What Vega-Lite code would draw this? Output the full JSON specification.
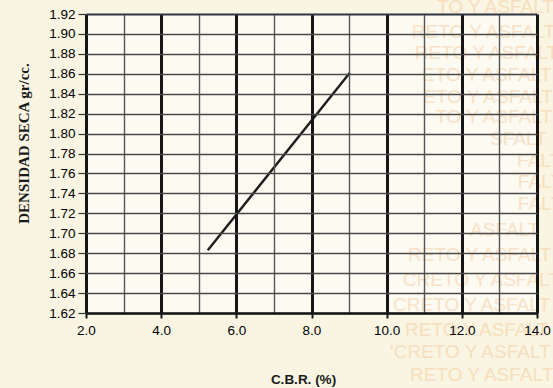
{
  "$schema": "https://vega.github.io/schema/vega-lite/v6.json",
  "width": 451,
  "height": 299,
  "autosize": {"type": "none"},
  "padding": {"left": 86, "top": 14, "right": 16, "bottom": 75},
  "background": "#f9f5e2",
  "config": {"view": {"fill": "#fcfaf1", "stroke": null}, "font": "Liberation Sans"},
  "datasets": {
    "curve": [
      {"cbr": 5.24, "dens": 1.683},
      {"cbr": 9.02, "dens": 1.861}
    ],
    "stamp": [
      {"cbr": 11.34, "dens": 1.927, "txt": "TO Y ASFALT"},
      {"cbr": 10.67, "dens": 1.902, "txt": "RETO Y ASFALT"},
      {"cbr": 10.75, "dens": 1.881, "txt": "RETO Y ASFALT"},
      {"cbr": 10.94, "dens": 1.859, "txt": "ETO Y ASFALT"},
      {"cbr": 10.97, "dens": 1.837, "txt": "ETO Y ASFALT"},
      {"cbr": 11.29, "dens": 1.817, "txt": "TO Y ASFALT"},
      {"cbr": 12.75, "dens": 1.795, "txt": "SFALT"},
      {"cbr": 13.47, "dens": 1.773, "txt": "FALT"},
      {"cbr": 13.49, "dens": 1.751, "txt": "FALT"},
      {"cbr": 13.49, "dens": 1.729, "txt": "FALT"},
      {"cbr": 12.22, "dens": 1.703, "txt": "ASFALT"},
      {"cbr": 10.57, "dens": 1.678, "txt": "RETO Y ASFALT"},
      {"cbr": 10.43, "dens": 1.653, "txt": "CRETO Y ASFALT"},
      {"cbr": 10.17, "dens": 1.628, "txt": "CRETO Y ASFALT"},
      {"cbr": 10.49, "dens": 1.603, "txt": "RETO Y ASFALT"},
      {"cbr": 10.09, "dens": 1.581, "txt": "'CRETO Y ASFALT"},
      {"cbr": 10.62, "dens": 1.558, "txt": "RETO Y ASFALT"},
      {"cbr": 10.67, "dens": 1.536, "txt": "RETO Y ASFALT"}
    ]
  },
  "layer": [
    {
      "data": {"name": "stamp"},
      "mark": {"type": "text", "align": "left", "baseline": "middle", "fontSize": 19, "color": "#f4c08d", "opacity": 0.42, "clip": false},
      "encoding": {
        "x": {"field": "cbr", "type": "quantitative", "scale": {"domain": [2, 14], "nice": false, "zero": false},
          "axis": {
            "values": [2, 3, 4, 5, 6, 7, 8, 9, 10, 11, 12, 13, 14],
            "tickCount": 40,
            "labelExpr": "datum.value % 2 === 0 ? format(datum.value, '.1f') : ''",
            "labelFlush": false,
            "labelOverlap": false,
            "grid": true,
            "gridColor": {"condition": {"test": "datum.value % 2 === 0", "value": "#151515"}, "value": "#555555"},
            "gridWidth": {"condition": {"test": "datum.value % 2 === 0", "value": 3}, "value": 1.4},
            "tickSize": 5,
            "tickWidth": 2,
            "tickColor": "#151515",
            "tickOpacity": {"condition": {"test": "datum.value % 2 === 0", "value": 1}, "value": 0},
            "domainColor": "#151515",
            "domainWidth": 2.5,
            "labelFontSize": 13.5,
            "labelColor": "#000000",
            "labelPadding": 5,
            "title": "C.B.R. (%)",
            "titleFontSize": 13.5,
            "titleFontWeight": "bold",
            "titleColor": "#1a1a1a",
            "titleX": 217,
            "titleY": 70,
            "titleAlign": "center",
            "titleBaseline": "alphabetic",
            "zindex": 1
          }
        },
        "y": {"field": "dens", "type": "quantitative", "scale": {"domain": [1.62, 1.92], "nice": false, "zero": false},
          "axis": {
            "values": [1.62, 1.64, 1.66, 1.68, 1.70, 1.72, 1.74, 1.76, 1.78, 1.80, 1.82, 1.84, 1.86, 1.88, 1.90, 1.92],
            "tickCount": 40,
            "format": ".2f",
            "grid": true,
            "gridColor": {"condition": {"test": "datum.value > 1.919", "value": "#2e3440"}, "value": "#4a4a4a"},
            "gridWidth": {"condition": {"test": "datum.value > 1.919", "value": 2.2}, "value": 1.5},
            "domain": false,
            "tickSize": 8,
            "tickWidth": 1.2,
            "tickColor": "#333333",
            "labelFontSize": 13.5,
            "labelColor": "#000000",
            "labelPadding": 3,
            "labelOverlap": false,
            "title": "DENSIDAD SECA gr/cc.",
            "titleFont": "Liberation Serif",
            "titleFontSize": 15,
            "titleFontWeight": "bold",
            "titleColor": "#1a1a1a",
            "titleAngle": 270,
            "titleX": -58,
            "titleY": 129,
            "titleAlign": "center",
            "titleBaseline": "alphabetic",
            "zindex": 1
          }
        },
        "text": {"field": "txt", "type": "nominal"}
      }
    },
    {
      "data": {"name": "curve"},
      "mark": {"type": "line", "color": "#1e1e1e", "strokeWidth": 2.4},
      "encoding": {
        "x": {"field": "cbr", "type": "quantitative"},
        "y": {"field": "dens", "type": "quantitative"}
      }
    }
  ]
}
